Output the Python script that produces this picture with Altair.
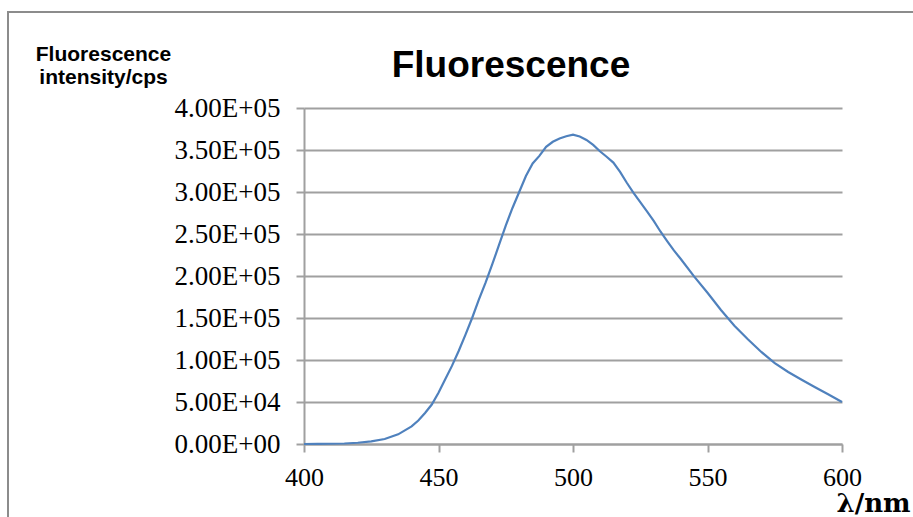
import altair as alt
import pandas as pd

# Emission spectrum: wavelength (nm) and intensity (counts per second)
wavelength = [400, 405, 410, 415, 420, 425, 430, 435, 440, 442.5, 445, 447.5,
              450, 452.5, 455, 457.5, 460, 462.5, 465, 467.5, 470, 472.5, 475,
              477.5, 480, 482.5, 485, 487.5, 490, 492.5, 495, 497.5, 500,
              502.5, 505, 507.5, 510, 512.5, 515, 517.5, 520, 522.5, 525,
              527.5, 530, 532.5, 535, 537.5, 540, 545, 550, 555, 560, 565,
              570, 575, 580, 585, 590, 595, 600]
intensity = [0, 100, 300, 600, 1500, 3200, 6000, 11500, 21000, 28000, 37000,
             47000, 61000, 77000, 93000, 110700, 130000, 150000, 171800,
             192000, 214000, 237000, 260000, 281000, 300000, 319000, 334000,
             343000, 353700, 359800, 363700, 366400, 368300, 366000, 362000,
             356000, 348500, 342000, 335000, 324000, 311000, 299000, 288000,
             277000, 265500, 253000, 241500, 230500, 220500, 199500, 180000,
             159500, 140800, 124700, 109600, 96200, 85700, 76400, 67500,
             59000, 50000]

x_ticks = [400, 450, 500, 550, 600]
y_ticks = [0, 50000, 100000, 150000, 200000, 250000, 300000, 350000, 400000]
y_labels = ["0.00E+00", "5.00E+04", "1.00E+05", "1.50E+05", "2.00E+05",
            "2.50E+05", "3.00E+05", "3.50E+05", "4.00E+05"]

chart_title = "Fluorescence"
y_title = ["Fluorescence", "intensity/cps"]
x_title = "λ/nm"

df = pd.DataFrame({"wavelength": wavelength, "intensity": intensity})

GRAY = "#a0a0a0"
LABEL_FONT = "Liberation Serif"

y_label_expr = "[{}][indexof([{}], datum.value)]".format(
    ",".join("'%s'" % s for s in y_labels), ",".join(str(v) for v in y_ticks))

spectrum = alt.Chart(df).mark_line(color="#4f81bd", strokeWidth=2.2).encode(
    x=alt.X("wavelength:Q",
            scale=alt.Scale(domain=[400, 600], nice=False, zero=False),
            axis=alt.Axis(values=x_ticks, grid=False, title=x_title,
                          domainColor=GRAY, domainWidth=2,
                          tickColor=GRAY, tickWidth=2, tickSize=8,
                          labelFont=LABEL_FONT, labelFontSize=26,
                          labelColor="black", labelPadding=12,
                          labelFlush=False, labelOverlap=False,
                          titleFont="DejaVu Serif", titleFontWeight="bold",
                          titleFontSize=26, titleColor="black",
                          titleX=569, titleY=67, titleAlign="center",
                          titleBaseline="alphabetic")),
    y=alt.Y("intensity:Q",
            scale=alt.Scale(domain=[0, 400000], nice=False),
            axis=alt.Axis(values=y_ticks, labelExpr=y_label_expr,
                          grid=True, gridColor=GRAY, gridWidth=2,
                          domainColor=GRAY, domainWidth=2,
                          tickColor=GRAY, tickWidth=2, tickSize=8,
                          labelFont=LABEL_FONT, labelFontSize=27,
                          labelColor="black", labelPadding=16,
                          labelOverlap=False,
                          title=y_title, titleAngle=0,
                          titleFont="Liberation Sans", titleFontWeight="bold",
                          titleFontSize=21, titleColor="black",
                          titleLineHeight=23,
                          titleX=-201, titleY=-48, titleAlign="center",
                          titleBaseline="alphabetic")),
)

one_row = alt.Data(values=[{"label": chart_title}])

heading = alt.Chart(one_row).mark_text(
    font="Liberation Sans", fontWeight="bold", fontSize=37, color="black",
    align="center", baseline="alphabetic"
).encode(text="label:N", x=alt.value(207), y=alt.value(-31))

# Outer frame lines along the left and top of the figure
frame_left = alt.Chart(one_row).mark_rule(color="#8c8c8c", strokeWidth=2).encode(
    x=alt.value(-296), y=alt.value(-96), y2=alt.value(430))
frame_top = alt.Chart(one_row).mark_rule(color="#8c8c8c", strokeWidth=2).encode(
    x=alt.value(-297), x2=alt.value(640), y=alt.value(-96))

chart = alt.layer(spectrum, heading, frame_left, frame_top).properties(
    width=538, height=336,
    autosize=alt.AutoSizeParams(type="none"),
    padding={"left": 304, "top": 108, "right": 71, "bottom": 73},
    background="white",
).configure_view(stroke=None)

chart.save("out.html", embed_options={"renderer": "svg", "actions": False})
